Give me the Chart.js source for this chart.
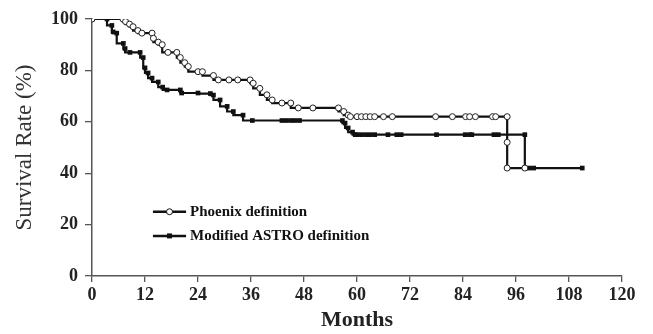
<!DOCTYPE html>
<html>
<head>
<meta charset="utf-8">
<script src="https://cdn.jsdelivr.net/npm/chart.js@4/dist/chart.umd.min.js"></script>
<style>
    body { margin: 0; background: #fff; }
    #grafico { display: block; }
</style>
</head>
<body>
<canvas id="grafico" width="653" height="334"></canvas>
<script>
// Kaplan-Meier curves (months, survival %)
const phoenix_meses = [0, 7, 7.6, 8.5, 9.3, 10.4, 11.3, 13.6, 13.9, 15, 15.9, 17.2, 19.2, 20, 21, 21.8, 24, 25, 27.5, 28.6, 31, 33, 35.8, 36.5, 38, 39.6, 40.8, 43, 45, 46.7, 50, 55.8, 57, 58, 58.5, 60, 61, 62, 63, 64, 66, 68, 77.8, 81.6, 84.6, 85.5, 86.8, 90.7, 91.4, 94, 94, 94, 98];
const phoenix_taxa  = [100, 100, 99, 98, 97, 95.5, 94.5, 94.5, 92.5, 91, 90, 87, 87, 85, 83, 81.5, 79.5, 79.5, 78, 76.3, 76.3, 76.3, 76.3, 75, 73, 70.5, 68.5, 67.3, 67.3, 65.4, 65.4, 65.4, 64, 62.6, 62, 62, 62, 62, 62, 62, 62, 62, 62, 62, 62, 62, 62, 62, 62, 62, 52, 42, 42];

const astro_meses = [0, 3.4, 4.5, 4.8, 5.6, 7.1, 7.5, 8.6, 10.9, 11.6, 12, 12.7, 13.6, 15, 16, 17, 20, 20.3, 24, 26.8, 27.5, 29, 30.6, 32, 34.2, 36.3, 43, 44, 45, 46, 47, 56.7, 57.3, 58, 59, 59.6, 60, 61, 62, 63, 64, 67, 69, 70, 78, 84.5, 85.5, 86, 91, 92, 98, 98, 99, 100, 111];
const astro_taxa  = [100, 100, 97.5, 95, 94.5, 90.5, 88.5, 87, 87, 85, 81, 79, 77, 75.5, 73.5, 72.4, 72.4, 71.2, 71.2, 71, 70.4, 68.5, 66, 64, 62.6, 60.5, 60.5, 60.5, 60.5, 60.5, 60.5, 60.5, 59.5, 57.6, 56, 55, 55, 55, 55, 55, 55, 55, 55, 55, 55, 55, 55, 55, 55, 55, 55, 42, 42, 42, 42];

const rotulos_x = [0, 12, 24, 36, 48, 60, 72, 84, 96, 108, 120];
const rotulos_y = [0, 20, 40, 60, 80, 100];

const series = ['Phoenix definition', 'Modified ASTRO definition'];

const fonte = "'Liberation Serif', 'Times New Roman', serif";
const cor_eixo = '#555';

function pontos(meses, taxa){
    return meses.map((m, i) => ({ x: m, y: taxa[i] }));
}

// legend drawn inside the plot, like the original figure
const legendaInterna = {
    id: 'legendaInterna',
    afterDatasetsDraw(chart){
        const ctx = chart.ctx;
        const sx = chart.scales.x;
        const sy = chart.scales.y;
        const itens = [
            { texto: series[0], y: 25, estilo: 'circle' },
            { texto: series[1], y: 15.6, estilo: 'rect' }
        ];
        ctx.save();
        itens.forEach(item => {
            let py = sy.getPixelForValue(item.y);
            let x0 = sx.getPixelForValue(13.8);
            let x1 = sx.getPixelForValue(21.3);
            ctx.strokeStyle = '#111';
            ctx.lineWidth = 2.5;
            ctx.beginPath();
            ctx.moveTo(x0, py);
            ctx.lineTo(x1, py);
            ctx.stroke();
            let mx = (x0 + x1) / 2;
            if(item.estilo == 'circle'){
                ctx.fillStyle = '#fff';
                ctx.lineWidth = 1;
                ctx.beginPath();
                ctx.arc(mx, py, 3, 0, Math.PI * 2);
                ctx.fill();
                ctx.stroke();
            } else {
                ctx.fillStyle = '#111';
                ctx.fillRect(mx - 2.5, py - 2.5, 5, 5);
            }
            ctx.fillStyle = '#111';
            ctx.font = 'bold 15px ' + fonte;
            ctx.textBaseline = 'middle';
            ctx.textAlign = 'left';
            ctx.fillText(item.texto, x1 + 4, py);
        });
        ctx.restore();
    }
};

new Chart(document.getElementById('grafico'), {
    type: 'line',
    data: {
        datasets: [{
            label: series[0],
            data: pontos(phoenix_meses, phoenix_taxa),
            stepped: 'after',
            borderColor: '#111',
            borderWidth: 2.2,
            pointStyle: 'circle',
            pointRadius: 3,
            pointBorderWidth: 1,
            pointBorderColor: '#222',
            pointBackgroundColor: '#fff'
        }, {
            label: series[1],
            data: pontos(astro_meses, astro_taxa),
            stepped: 'after',
            borderColor: '#111',
            borderWidth: 2.2,
            pointStyle: 'rect',
            pointRadius: 3.3,
            pointBorderWidth: 0,
            pointBackgroundColor: '#111'
        }]
    },
    options: {
        responsive: false,
        animation: false,
        layout: { padding: { left: 0, right: 31, top: 19, bottom: 0 } },
        plugins: {
            legend: { display: false },
            tooltip: { enabled: false }
        },
        scales: {
            x: {
                type: 'linear',
                min: 0,
                max: 120,
                afterBuildTicks: (s) => { s.ticks = rotulos_x.map(v => ({ value: v })); },
                afterFit: (s) => { s.height = 58; },
                grid: { drawOnChartArea: false, drawTicks: true, tickLength: 6, color: cor_eixo, lineWidth: 1.3 },
                border: { display: true, color: cor_eixo, width: 1.5 },
                ticks: { color: '#222', padding: 3, maxRotation: 0, font: { family: fonte, size: 18, weight: 'bold' } },
                title: { display: true, text: 'Months', color: '#222', padding: { top: 0, bottom: 0 }, font: { family: fonte, size: 22, weight: 'bold' } }
            },
            y: {
                min: 0,
                max: 100,
                afterBuildTicks: (s) => { s.ticks = rotulos_y.map(v => ({ value: v })); },
                afterFit: (s) => { s.width = 92; },
                grid: { drawOnChartArea: false, drawTicks: true, tickLength: 7, color: cor_eixo, lineWidth: 1.3 },
                border: { display: true, color: cor_eixo, width: 1.5 },
                ticks: { color: '#222', padding: 7, font: { family: fonte, size: 18, weight: 'bold' } },
                title: { display: true, text: 'Survival Rate (%)', color: '#333', padding: { top: 11, bottom: 0 }, font: { family: fonte, size: 23 } }
            }
        }
    },
    plugins: [legendaInterna]
});
</script>
</body>
</html>
